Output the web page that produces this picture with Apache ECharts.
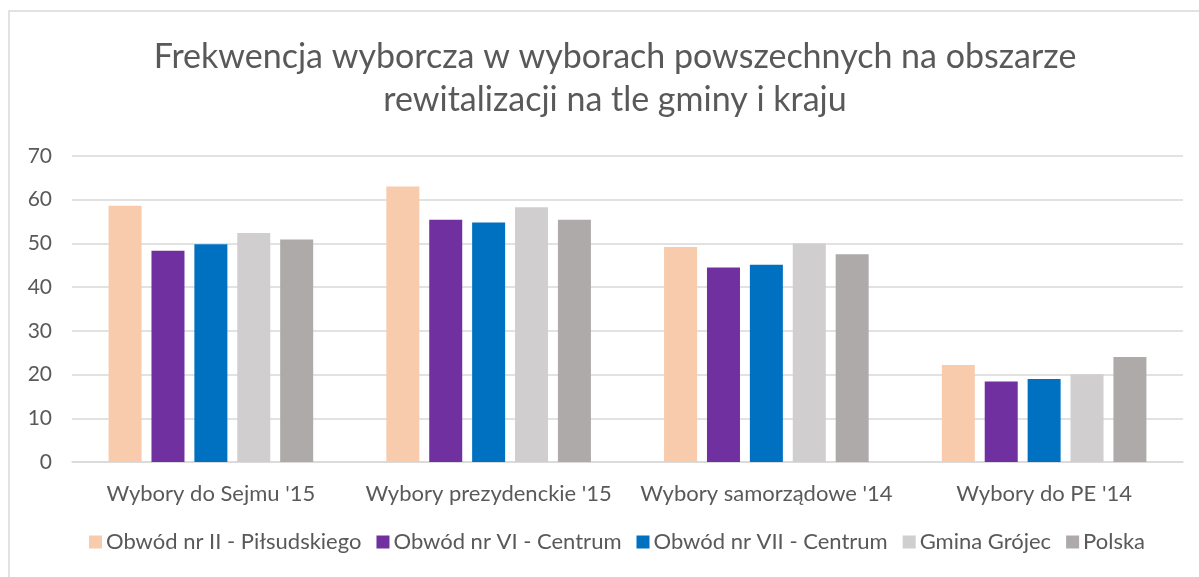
<!DOCTYPE html>
<html>
<head>
<meta charset="utf-8">
<script src="https://cdn.jsdelivr.net/npm/echarts@6/dist/echarts.min.js"></script>
<style>
  html, body { margin: 0; padding: 0; background: #fff; }
  #chart { width: 1199px; height: 577px; }
</style>
</head>
<body>
<div id="chart"></div>
<script>
  // dane
  const categories = ["Wybory do Sejmu '15", "Wybory prezydenckie '15", "Wybory samorządowe '14", "Wybory do PE '14"];
  const seriesNames = ['Obwód nr II - Piłsudskiego', 'Obwód nr VI - Centrum', 'Obwód nr VII - Centrum', 'Gmina Grójec', 'Polska'];
  const obwod2 = [58.6, 63.0, 49.2, 22.2];
  const obwod6 = [48.3, 55.4, 44.5, 18.4];
  const obwod7 = [49.8, 54.8, 45.1, 19.0];
  const gmina = [52.4, 58.3, 50.0, 20.1];
  const polska = [50.9, 55.4, 47.5, 24.0];
  const colors = ['#F8CBAD', '#7030A0', '#0070C0', '#D0CECE', '#AEAAAA'];

  const values = [obwod2, obwod6, obwod7, gmina, polska];
  const font = 'Lato, "Open Sans", sans-serif';

  let myChart = echarts.init(document.getElementById('chart'));
  let option = {
    animation: false,
    textStyle: { fontFamily: font },
    graphic: [{
      type: 'rect',
      shape: { x: 9, y: 11, width: 1200, height: 580 },
      style: { fill: 'none', stroke: '#D9D9D9', lineWidth: 1.5 },
      silent: true
    }],
    title: {
      text: 'Frekwencja wyborcza w wyborach powszechnych na obszarze\nrewitalizacji na tle gminy i kraju',
      left: 610,
      textAlign: 'center',
      top: 31,
      textStyle: {
        fontFamily: font,
        fontSize: 34,
        fontWeight: 'normal',
        color: '#595959',
        lineHeight: 43
      }
    },
    legend: {
      data: seriesNames,
      bottom: 19,
      left: 84,
      itemWidth: 13,
      itemHeight: 13,
      itemGap: 15,
      icon: 'rect',
      textStyle: { fontFamily: font, fontSize: 22, color: '#595959', padding: [0, 0, 0, -1] }
    },
    grid: { left: 72, right: 16, top: 156, bottom: 115, containLabel: false },
    xAxis: {
      type: 'category',
      data: categories,
      axisLine: { lineStyle: { color: '#D9D9D9', width: 1.5 } },
      axisTick: { show: false },
      axisLabel: { fontFamily: font, fontSize: 22, color: '#595959', margin: 21, interval: 0 }
    },
    yAxis: {
      type: 'value',
      min: 0,
      max: 70,
      interval: 10,
      axisLine: { show: false },
      axisTick: { show: false },
      splitLine: { lineStyle: { color: '#D9D9D9', width: 1.5 } },
      axisLabel: { fontFamily: font, fontSize: 21, color: '#595959', margin: 20 }
    },
    series: seriesNames.map((name, i) => ({
      name: name,
      type: 'bar',
      data: values[i],
      barWidth: 33,
      barGap: '30%',
      itemStyle: { color: colors[i] }
    }))
  };
  myChart.setOption(option);
</script>
</body>
</html>
